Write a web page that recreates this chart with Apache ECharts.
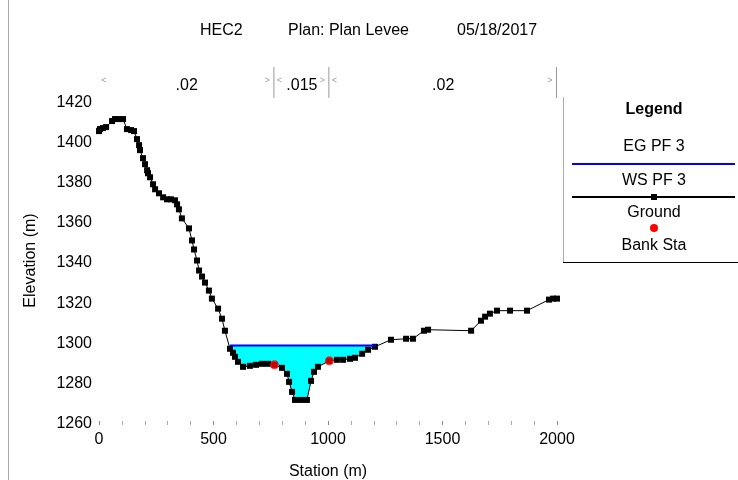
<!DOCTYPE html>
<html><head><meta charset="utf-8">
<script src="https://cdn.jsdelivr.net/npm/echarts@6/dist/echarts.min.js"></script>
<style>html,body{margin:0;padding:0;background:#fff}#c{width:738px;height:480px}</style>
</head><body><div id="c"></div>
<script>
// ---- data ----
const groundStation = [0, 4, 17, 31, 57, 70, 87, 105, 122, 140, 153, 166, 175, 179, 192, 201, 210, 214, 223, 236, 245, 262, 280, 297, 314, 332, 341, 349, 362, 393, 406, 415, 428, 437, 450, 463, 480, 493, 520, 537, 550, 572, 585, 594, 607, 629, 659, 686, 712, 738, 766, 799, 821, 830, 843, 856, 882, 908, 926, 939, 956, 1006, 1039, 1066, 1096, 1118, 1149, 1175, 1205, 1275, 1341, 1371, 1419, 1437, 1625, 1668, 1686, 1707, 1738, 1795, 1869, 1965, 1983, 2000];
const groundElev = [1404.5, 1405.5, 1406, 1406.5, 1409.5, 1410.5, 1410.5, 1410.5, 1405.5, 1405, 1404.5, 1400.5, 1397.5, 1395, 1391, 1388, 1385, 1383.5, 1381.5, 1378, 1375.5, 1373.5, 1371.5, 1370.5, 1370.5, 1370, 1368, 1365.5, 1361, 1356, 1350, 1345.5, 1340, 1335, 1332, 1329, 1325, 1321, 1316, 1311, 1305, 1296, 1294, 1292, 1289.5, 1287, 1287.5, 1288, 1288.5, 1288.5, 1288, 1286.5, 1283.5, 1279.5, 1274.5, 1270.5, 1270.5, 1270.5, 1280, 1284.5, 1287, 1290, 1290.5, 1290.5, 1291, 1291.5, 1293.5, 1295.5, 1297, 1300.5, 1301, 1301, 1305, 1305.5, 1305, 1310, 1312, 1313.5, 1315, 1315, 1315, 1320.5, 1321, 1321];
const bankStation = [766, 1006];
const bankElev = [1288, 1290];
const wsStation = [572, 1210];
const wsElev = 1297.5;
const egElev = 1297.6;
const nBoundaries = [0, 766, 1006, 2000];
const nValues = ['.02', '.015', '.02'];
const titleParts = ['HEC2', 'Plan: Plan Levee', '05/18/2017'];
const legendItems = ['EG PF 3', 'WS PF 3', 'Ground', 'Bank Sta'];

const FONT = "'Liberation Sans', Arial, sans-serif";
const chart = echarts.init(document.getElementById('c'), null, {renderer: 'canvas'});

const groundData = groundStation.map((s, i) => [s, groundElev[i]]);
const bankData = bankStation.map((s, i) => [s, bankElev[i]]);
const wsData = wsStation.map(s => [s, wsElev]);
const egData = wsStation.map(s => [s, egElev]);

const option = {
  animation: false,
  backgroundColor: '#fff',
  grid: {left: 99, right: 181, top: 100, bottom: 59, containLabel: false, outerBoundsMode: 'none'},
  xAxis: {
    type: 'value', min: 0, max: 2000, interval: 500,
    name: 'Station (m)', nameLocation: 'middle', nameGap: 43,
    nameTextStyle: {fontFamily: FONT, fontSize: 16, color: '#000'},
    axisLine: {show: false},
    axisTick: {show: true, length: 4, lineStyle: {color: '#888'}},
    minorTick: {show: true, splitNumber: 5, length: 4, lineStyle: {color: '#aaa'}},
    axisLabel: {fontFamily: FONT, fontSize: 16, color: '#000', margin: 11, formatter: v => String(v)},
    splitLine: {show: false}
  },
  yAxis: {
    type: 'value', min: 1260, max: 1420, interval: 20,
    name: 'Elevation (m)', nameLocation: 'middle', nameGap: 60,
    nameTextStyle: {fontFamily: FONT, fontSize: 16, color: '#000'},
    axisLine: {show: false},
    axisTick: {show: false},
    axisLabel: {color: '#000', margin: 7, formatter: v => '{a|' + v + '}',
      rich: {a: {fontFamily: FONT, fontSize: 16, color: '#000', padding: [5, 0, 0, 0]}}},
    splitLine: {show: false}
  },
  series: [
    {name: 'WS PF 3', type: 'line', data: wsData, symbol: 'none', z: 2,
     lineStyle: {width: 0, color: '#00ffff'},
     areaStyle: {color: '#00ffff', opacity: 1, origin: 'start'}},
    {name: 'Ground', type: 'line', data: groundData, z: 3,
     symbol: 'rect', symbolSize: 6, showAllSymbol: true,
     itemStyle: {color: '#000'}, lineStyle: {color: '#000', width: 1},
     areaStyle: {color: '#fff', opacity: 1, origin: 'start'}},
    {name: 'EG PF 3', type: 'line', data: egData, symbol: 'none', z: 4,
     lineStyle: {color: '#0000ff', width: 2}},
    {name: 'Bank Sta', type: 'scatter', data: bankData, z: 5,
     symbol: 'circle', symbolSize: 9, itemStyle: {color: '#ff0000'}}
  ]
};
chart.setOption(option);

// ---- overlay: title, Manning's n row, legend box ----
const g = [];
const tStyle = (txt, x, y, extra) => Object.assign({type: 'text', x, y,
  style: Object.assign({text: txt, font: '16px ' + FONT, fill: '#000', textVerticalAlign: 'middle'}, extra || {})});
g.push(tStyle(titleParts[0], 200, 31));
g.push(tStyle(titleParts[1], 288, 31));
g.push(tStyle(titleParts[2], 457, 31));

const px = nBoundaries.map(s => chart.convertToPixel({xAxisIndex: 0}, s));
for (let i = 0; i < nBoundaries.length; i++) {
  if (i > 0) {
    g.push({type: 'line', shape: {x1: px[i] - 0.5, y1: 67, x2: px[i] - 0.5, y2: 98}, style: {stroke: '#999', lineWidth: 1}});
    g.push(tStyle('>', px[i] - 7, 81, {font: '9px ' + FONT, fill: '#999', textAlign: 'center'}));
  }
  if (i < nBoundaries.length - 1) {
    g.push(tStyle('<', px[i] + 5, 81, {font: '9px ' + FONT, fill: '#999', textAlign: 'center'}));
    g.push(tStyle(nValues[i], (px[i] + px[i + 1]) / 2, 86, {textAlign: 'center'}));
  }
}

// legend box
const LX = 654;
g.push({type: 'line', shape: {x1: 563.5, y1: 97, x2: 563.5, y2: 262}, style: {stroke: '#aaa', lineWidth: 1}});
g.push({type: 'line', shape: {x1: 563, y1: 262.5, x2: 738, y2: 262.5}, style: {stroke: '#000', lineWidth: 1}});
g.push({type: 'line', shape: {x1: 8.5, y1: 0, x2: 8.5, y2: 480}, style: {stroke: '#aaa', lineWidth: 1}});
g.push(tStyle('Legend', LX, 110, {textAlign: 'center', font: 'bold 16px ' + FONT}));
g.push(tStyle(legendItems[0], LX, 147, {textAlign: 'center'}));
g.push({type: 'line', shape: {x1: 572, y1: 164, x2: 735, y2: 164}, style: {stroke: '#0000ff', lineWidth: 2}});
g.push(tStyle(legendItems[1], LX, 181, {textAlign: 'center'}));
g.push({type: 'line', shape: {x1: 572, y1: 197, x2: 735, y2: 197}, style: {stroke: '#000', lineWidth: 2}});
g.push({type: 'rect', shape: {x: LX - 3, y: 194, width: 6, height: 6}, style: {fill: '#000'}});
g.push(tStyle(legendItems[2], LX, 213, {textAlign: 'center'}));
g.push({type: 'circle', shape: {cx: LX, cy: 228, r: 4}, style: {fill: '#ff0000'}});
g.push(tStyle(legendItems[3], LX, 246, {textAlign: 'center'}));

chart.setOption({graphic: g});
</script></body></html>
